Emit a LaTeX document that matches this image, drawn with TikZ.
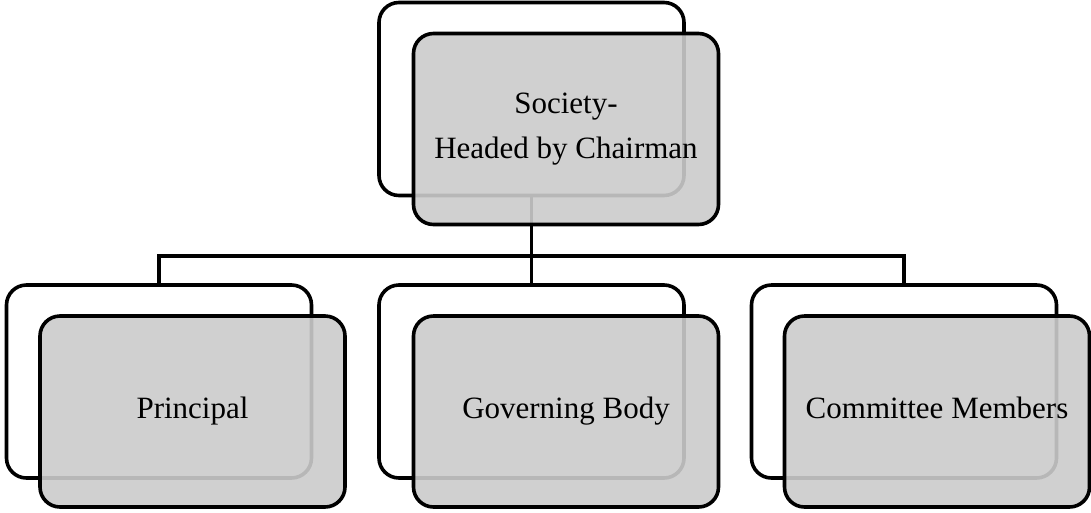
\documentclass[tikz,border=0pt]{standalone}
\usepackage{fontspec}
\setmainfont{Liberation Serif}
\definecolor{boxgray}{RGB}{203,203,203}
\begin{document}
\begin{tikzpicture}[x=1pt,y=-1pt,
  backbox/.style={draw=black,line width=3.6pt,fill=white,rounded corners=20pt,
    minimum width=305pt,minimum height=193pt,inner sep=0pt,outer sep=0pt},
  frontbox/.style={draw=black,line width=3.6pt,fill=boxgray,fill opacity=0.9,
    text opacity=1,draw opacity=1,rounded corners=20pt,
    minimum width=305pt,minimum height=191pt,inner sep=0pt,outer sep=0pt,
    align=center,font=\fontsize{31}{45}\selectfont},
  oneline/.style={text height=21pt,text depth=7pt},
  link/.style={draw=black,line width=3.4pt}]
\useasboundingbox (0,0) rectangle (1091,512);
% back boxes
\node[backbox] (sb) at (531.5,99) {};
\node[backbox] (pb) at (159,381.5) {};
\node[backbox] (gb) at (531.5,381.5) {};
\node[backbox] (cb) at (904,381.5) {};
% connectors
\coordinate (hub) at (531.5,256);
\draw[link] (sb.south) -- (hub);
\draw[link,line cap=rect] (pb.north) |- (hub);
\draw[link] (hub) -- (gb.north);
\draw[link,line cap=rect] (cb.north) |- (hub);
% front boxes
\node[frontbox] (s) at (566,129) {Society-\\Headed by Chairman};
\node[frontbox,oneline] (p) at (192.5,411.5) {Principal};
\node[frontbox,oneline] (g) at (566,411.5) {Governing Body};
\node[frontbox,oneline] (c) at (937,411.5) {Committee Members};
\end{tikzpicture}
\end{document}
